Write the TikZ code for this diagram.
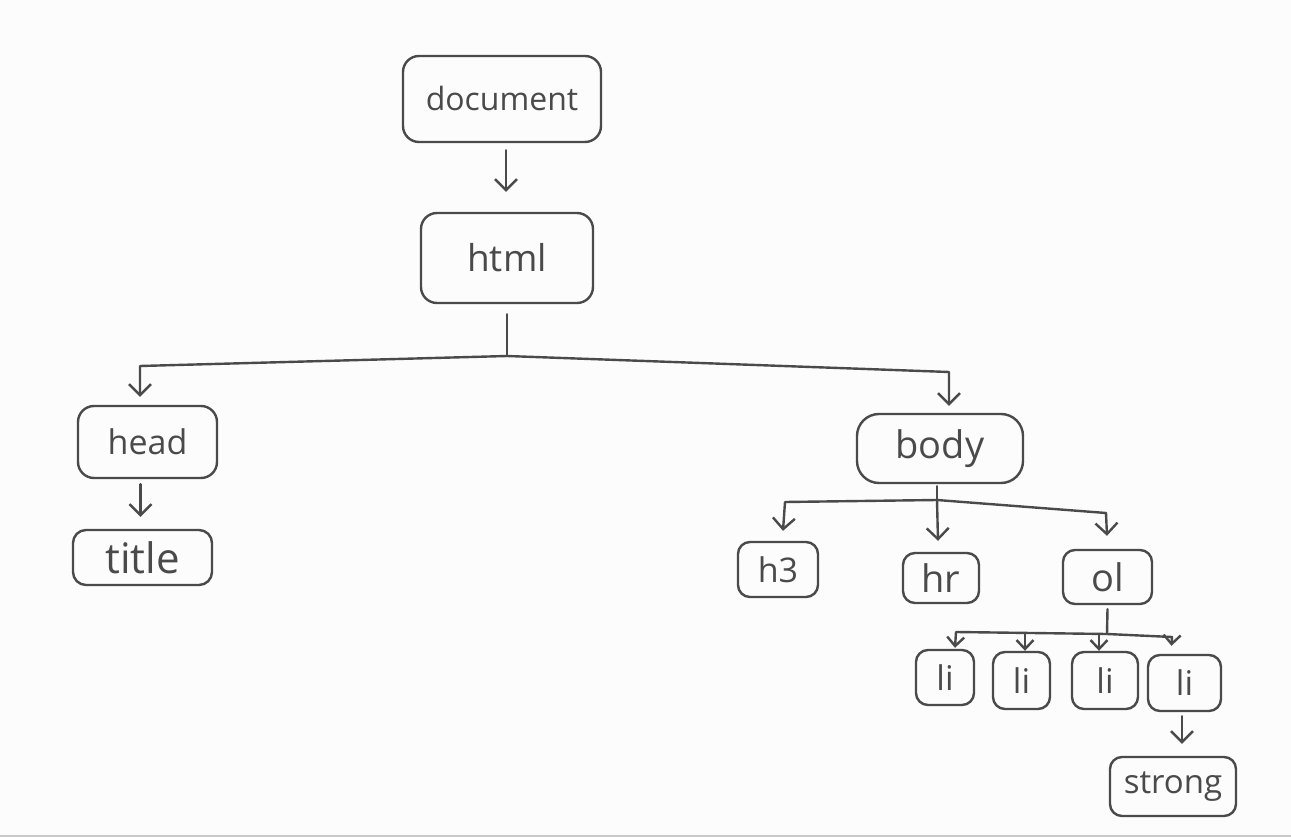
\documentclass[tikz,border=0pt]{standalone}
\usepackage{fontspec}
\setmainfont{Open Sans}
\usetikzlibrary{arrows.meta,calc}
\definecolor{ink}{HTML}{4A4A4A}
\definecolor{bg}{HTML}{FCFCFC}
\definecolor{rulec}{HTML}{C8C8C8}
\begin{document}
\begin{tikzpicture}[x=1pt,y=-1pt,
  box/.style={draw=ink, line width=2.4pt, rounded corners=16pt, text=ink, inner sep=0pt, font=\fontsize{34}{38}\selectfont},
  sbox/.style={box, rounded corners=12pt, font=\fontsize{36}{40}\selectfont},
  lbox/.style={sbox, font=\fontsize{34}{38}\selectfont},
  link/.style={draw=ink, line width=2.4pt, line cap=round, line join=round},
  arr/.style={link, -{Straight Barb[length=11pt,width=22pt]}},
  sarr/.style={link, -{Straight Barb[length=9pt,width=17pt]}}]
\fill[bg] (0,0) rectangle (1291,837);
\useasboundingbox (0,0) rectangle (1291,837);
\draw[rulec, line width=2pt] (0,836) -- (1291,836);

% nodes
\node[box, minimum width=198pt, minimum height=86pt, font=\fontsize{32}{36}\selectfont] (doc) at (502,99) {document};
\node[box, minimum width=172pt, minimum height=90pt, font=\fontsize{37}{41}\selectfont] (html) at (507,258) {html};
\node[box, minimum width=139pt, minimum height=72pt] (head) at (147.5,442) {head};
\node[box, minimum width=139pt, minimum height=55pt, rounded corners=13pt, font=\fontsize{42}{46}\selectfont] (title) at (142.5,557.5) {title};
\node[box, minimum width=166pt, minimum height=69pt, rounded corners=22pt, font=\fontsize{38}{42}\selectfont] (body) at (940,448.5) {body};
\node[sbox, minimum width=80pt, minimum height=55pt, font=\fontsize{34}{38}\selectfont] (h3) at (778,569.5) {h3};
\node[sbox, minimum width=76pt, minimum height=50pt, font=\fontsize{38}{42}\selectfont] (hr) at (941,578) {hr};
\node[sbox, minimum width=89pt, minimum height=54pt, font=\fontsize{38}{42}\selectfont] (ol) at (1107.5,577) {ol};
\node[lbox, minimum width=58pt, minimum height=55pt] (li1) at (945,677.5) {li};
\node[lbox, minimum width=57pt, minimum height=57pt] (li2) at (1021.5,680.5) {li};
\node[lbox, minimum width=66pt, minimum height=57pt] (li3) at (1105,680.5) {li};
\node[lbox, minimum width=73pt, minimum height=56pt] (li4) at (1184.5,683) {li};
\node[sbox, minimum width=126pt, minimum height=59pt, font=\fontsize{33}{37}\selectfont] (strong) at (1173,786.5) {strong};

% document -> html
\draw[arr] ([xshift=4pt,yshift=-7pt]doc.south) -- ([xshift=-1pt,yshift=20pt]html.north);

% html -> head, body
\coordinate (hj) at (507,356);
\coordinate (hl) at (140,366);
\coordinate (hrc) at (949,372);
\draw[link] ([yshift=-10pt]html.south) -- (hj);
\draw[arr] (hj) -- (hl) -- ([xshift=-7.5pt,yshift=8pt]head.north);
\draw[arr] (hj) -- (hrc) -- ([xshift=9pt,yshift=7pt]body.north);

% head -> title
\draw[arr] ([xshift=-7pt,yshift=-5pt]head.south) -- ([xshift=-2pt,yshift=12pt]title.north);

% body -> h3, hr, ol
\coordinate (bj) at (937,500);
\coordinate (bl) at (785,502);
\coordinate (br) at (1106,513);
\draw[link] ([xshift=-3pt,yshift=-2pt]body.south) -- (bj);
\draw[arr] (bj) -- (bl) -- ([xshift=5pt,yshift=10pt]h3.north);
\draw[arr] (bj) -- ([xshift=-3pt,yshift=11pt]hr.north);
\draw[arr] (bj) -- (br) -- ([xshift=-0.5pt,yshift=13pt]ol.north);

% ol -> li
\coordinate (oj) at (1107,634);
\coordinate (ol1) at (956,632);
\coordinate (ol4) at (1172,637);
\coordinate (b2) at (1025,633);
\coordinate (b3) at (1099,634);
\draw[link] ([yshift=-4pt]ol.south) -- (oj);
\draw[sarr] (oj) -- (ol1) -- ([xshift=10pt,yshift=1pt]li1.north);
\draw[sarr] (b2) -- ([xshift=3.5pt]li2.north);
\draw[sarr] (b3) -- ([xshift=-6pt]li3.north);
\draw[sarr] (oj) -- (ol4) -- ([xshift=-13pt,yshift=8pt]li4.north);

% li -> strong
\draw[arr] ([xshift=-2.5pt,yshift=-4pt]li4.south) -- ([xshift=9pt,yshift=12pt]strong.north);
\end{tikzpicture}
\end{document}
